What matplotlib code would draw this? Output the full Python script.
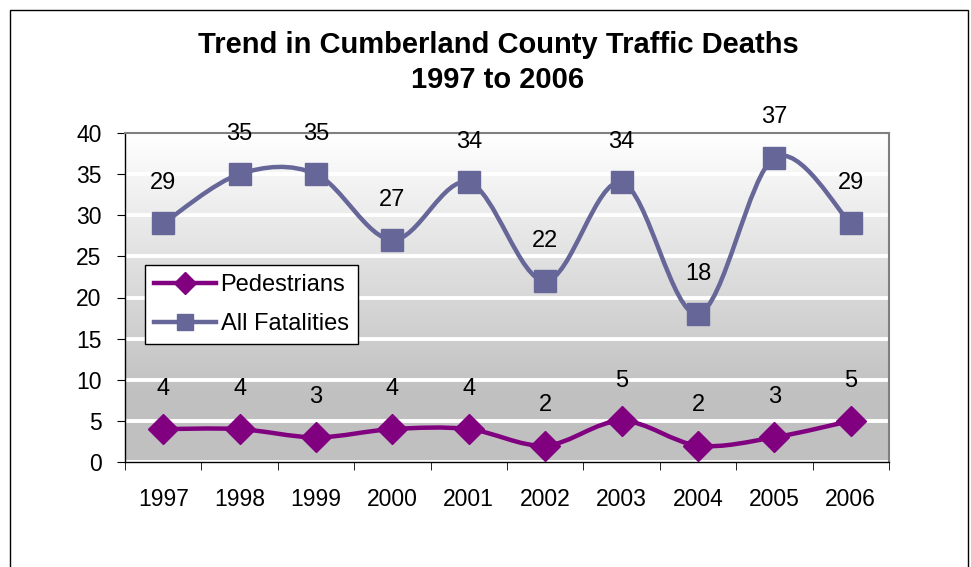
import numpy as np
import matplotlib.pyplot as plt
from matplotlib.path import Path
from matplotlib.patches import PathPatch, Rectangle
from matplotlib.lines import Line2D

plt.rcParams['font.family'] = ['Liberation Sans', 'DejaVu Sans']

years = ['1997', '1998', '1999', '2000', '2001', '2002', '2003', '2004', '2005', '2006']
pedestrians = [4, 4, 3, 4, 4, 2, 5, 2, 3, 5]
all_fatalities = [29, 35, 35, 27, 34, 22, 34, 18, 37, 29]

PED_COLOR = '#800080'
ALL_COLOR = '#666699'


def smooth_path(xs, ys):
    # Excel-style smoothed line: Catmull-Rom segments as cubic Beziers
    pts = np.column_stack([xs, ys]).astype(float)
    n = len(pts)
    verts = [pts[0]]
    codes = [Path.MOVETO]
    for i in range(n - 1):
        p0 = pts[max(i - 1, 0)]
        p1 = pts[i]
        p2 = pts[i + 1]
        p3 = pts[min(i + 2, n - 1)]
        c1 = p1 + (p2 - p0) / 6.0
        c2 = p2 - (p3 - p1) / 6.0
        verts += [c1, c2, p2]
        codes += [Path.CURVE4] * 3
    return Path(verts, codes)


fig = plt.figure(figsize=(9.71, 5.67), dpi=100)
ax = fig.add_axes([125 / 971, 1 - 462 / 567, 764 / 971, 329 / 567])

x = np.arange(len(years))
ax.set_xlim(-0.5, len(years) - 0.5)
ax.set_ylim(0, 40)

# gradient plot area background
grad = np.linspace(0, 1, 256)
shade = np.clip((grad - 0.2) / 0.8, 0, 1)
col = 0.753 + (1.0 - 0.753) * shade
col2 = np.repeat(col[:, None], 2, axis=1)
img = np.dstack([col2, col2, col2])
ax.imshow(img, extent=[-0.5, len(years) - 0.5, 0, 40], origin='lower',
          aspect='auto', zorder=0, interpolation='bilinear')

ax.set_yticks(range(0, 41, 5))
ax.yaxis.grid(True, color='white', linewidth=2.8, zorder=1)
ax.set_axisbelow(True)

for ys, color, marker, ms in [(pedestrians, PED_COLOR, 'D', 15),
                              (all_fatalities, ALL_COLOR, 's', 16.5)]:
    ax.add_patch(PathPatch(smooth_path(x, ys), facecolor='none', edgecolor=color,
                           linewidth=3.2, zorder=3, capstyle='round'))
    ax.plot(x, ys, linestyle='none', marker=marker, markersize=ms,
            color=color, zorder=4)
    for xi, yi in zip(x, ys):
        ax.annotate(str(yi), (xi, yi), xytext=(0, 29), textcoords='offset points',
                    ha='center', va='center', fontsize=17, color='black')

ax.set_xticks(x)
ax.set_xticklabels(years, fontsize=16.5)
ax.set_xticks(np.arange(-0.5, len(years)), minor=True)
ax.tick_params(axis='x', which='major', length=0, pad=19)
ax.tick_params(axis='x', which='minor', length=6, direction='out', color='black')
ax.tick_params(axis='y', labelsize=16.5, length=6, direction='out', pad=11)

for side in ['top', 'right']:
    ax.spines[side].set_color('#808080')
    ax.spines[side].set_linewidth(1.5)
for side in ['left', 'bottom']:
    ax.spines[side].set_color('black')
    ax.spines[side].set_linewidth(1)

handles = [
    Line2D([], [], color=PED_COLOR, marker='D', markersize=11, linewidth=3.2),
    Line2D([], [], color=ALL_COLOR, marker='s', markersize=12, linewidth=3.2),
]
leg = ax.legend(handles, ['Pedestrians', 'All Fatalities'], loc='upper left',
                bbox_to_anchor=(145 / 971, 1 - 265 / 567), bbox_transform=fig.transFigure,
                fontsize=17, frameon=True, fancybox=False, edgecolor='black',
                framealpha=1, handlelength=2.6, borderpad=0.4, labelspacing=0.7,
                handletextpad=0.2, borderaxespad=0)
leg.get_frame().set_linewidth(1)

fig.text(498 / 971, 1 - 45 / 567, 'Trend in Cumberland County Traffic Deaths',
         ha='center', va='center', fontsize=21, fontweight='bold')
fig.text(498 / 971, 1 - 80 / 567, '1997 to 2006',
         ha='center', va='center', fontsize=21, fontweight='bold')

# outer chart border (bottom edge runs off the image)
fig.patches.append(Rectangle((10 / 971, -0.1), 958 / 971, 1.1 - 10 / 567,
                             transform=fig.transFigure, fill=False,
                             edgecolor='black', linewidth=1))

fig.savefig('out.png', dpi=100)
